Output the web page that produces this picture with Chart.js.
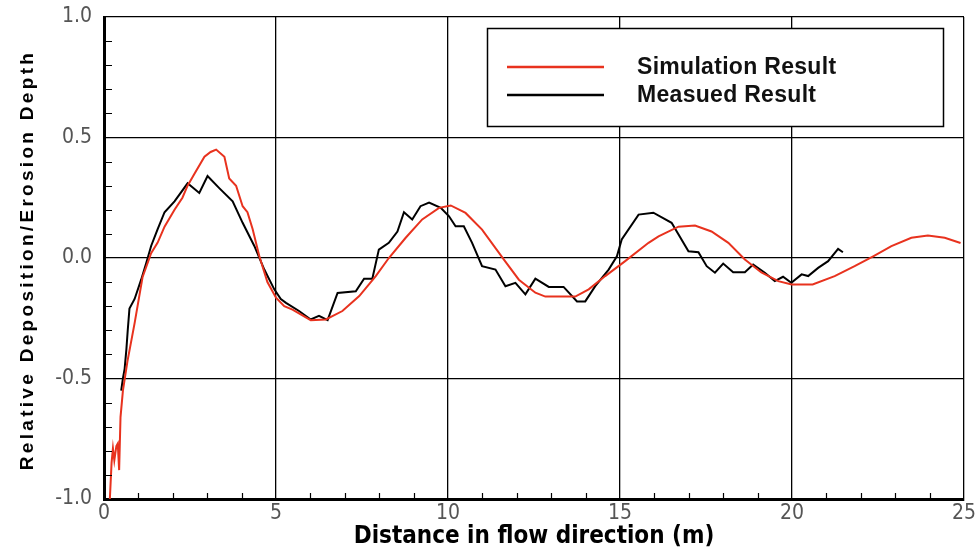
<!DOCTYPE html>
<html><head><meta charset="utf-8">
<script src="https://cdn.jsdelivr.net/npm/chart.js@4/dist/chart.umd.min.js"></script>
<style>html,body{margin:0;padding:0;background:#fff}#wrap{width:979px;height:552px}</style>
</head><body><div id="wrap"><canvas id="c" width="979" height="552"></canvas></div>
<script>
const seriesNames = ["Simulation Result", "Measued Result"];
const xTitle = "Distance in flow direction (m)";
const yTitle = "Relative Deposition/Erosion Depth";
const xTicks = [0, 5, 10, 15, 20, 25];
const yTicks = [-1.0, -0.5, 0.0, 0.5, 1.0];

const simX = [0.17,0.22,0.26,0.3,0.36,0.4,0.44,0.48,0.55,0.68,0.89,1.12,1.37,1.56,1.76,2.05,2.28,2.43,2.63,2.92,3.1,3.26,3.5,3.64,3.84,4.03,4.17,4.32,4.51,4.75,5.0,5.24,5.48,6.01,6.45,6.93,7.42,7.9,8.28,8.77,9.25,9.74,10.08,10.51,10.99,11.62,12.06,12.54,12.83,13.7,14.09,14.57,15.15,15.83,16.12,16.7,17.18,17.66,18.15,18.63,19.11,19.6,19.99,20.6,21.24,21.82,22.36,22.89,23.47,23.95,24.44,24.9];
const simY = [-1.0,-0.85,-0.79,-0.84,-0.78,-0.77,-0.88,-0.66,-0.55,-0.43,-0.27,-0.08,0.02,0.064,0.13,0.2,0.25,0.3,0.35,0.42,0.44,0.45,0.42,0.33,0.30,0.215,0.19,0.12,0.01,-0.10,-0.165,-0.2,-0.214,-0.258,-0.255,-0.22,-0.158,-0.075,0.0,0.084,0.16,0.208,0.218,0.187,0.118,-0.006,-0.09,-0.144,-0.16,-0.16,-0.13,-0.075,-0.013,0.063,0.09,0.13,0.135,0.11,0.063,-0.006,-0.06,-0.096,-0.11,-0.11,-0.075,-0.034,0.007,0.049,0.084,0.093,0.084,0.062];

const measX = [0.5,0.55,0.6,0.65,0.69,0.74,0.89,1.08,1.23,1.37,1.56,1.76,2.05,2.43,2.77,3.01,3.35,3.74,4.03,4.37,4.66,4.95,5.14,5.29,5.67,6.01,6.25,6.5,6.79,7.32,7.56,7.8,7.99,8.28,8.53,8.72,8.96,9.2,9.45,9.79,10.03,10.22,10.46,10.7,10.99,11.38,11.67,11.96,12.25,12.54,12.93,13.36,13.75,13.99,14.28,14.67,14.91,15.05,15.54,15.97,16.5,16.99,17.28,17.52,17.76,18.0,18.29,18.63,18.87,19.21,19.5,19.74,19.98,20.28,20.47,20.76,21.05,21.34,21.48];
const measY = [-0.55,-0.5,-0.46,-0.38,-0.30,-0.21,-0.17,-0.09,-0.02,0.05,0.12,0.19,0.235,0.31,0.27,0.34,0.29,0.235,0.146,0.05,-0.048,-0.13,-0.17,-0.186,-0.22,-0.255,-0.24,-0.258,-0.145,-0.138,-0.086,-0.086,0.035,0.063,0.11,0.19,0.16,0.215,0.23,0.208,0.173,0.132,0.132,0.063,-0.034,-0.048,-0.117,-0.103,-0.151,-0.086,-0.12,-0.12,-0.18,-0.18,-0.117,-0.048,0.007,0.077,0.18,0.188,0.146,0.028,0.024,-0.034,-0.061,-0.023,-0.059,-0.059,-0.027,-0.061,-0.096,-0.078,-0.103,-0.068,-0.075,-0.041,-0.013,0.038,0.024];

const toPts = (xs, ys) => xs.map((x, i) => ({x: x, y: ys[i]}));
const NARROW = '"Liberation Sans Narrow", "DejaVu Sans Condensed", "Arial Narrow", sans-serif';
const SANS = '"Liberation Sans", Arial, sans-serif';

const decor = {
  id: 'decor',
  afterDraw(chart) {
    const ctx = chart.ctx, a = chart.chartArea;
    const xs = chart.scales.x, ys = chart.scales.y;
    ctx.save();
    ctx.strokeStyle = '#000';
    ctx.lineWidth = 1.2;
    ctx.beginPath();
    for (let v = 1; v < 25; v++) {
      if (v % 5 === 0) continue;
      const px = Math.round(xs.getPixelForValue(v)) + 0.5;
      ctx.moveTo(px, a.bottom); ctx.lineTo(px, a.bottom - 6);
    }
    for (let k = -9; k <= 9; k++) {
      if (k % 5 === 0) continue;
      const py = Math.round(ys.getPixelForValue(k / 10)) + 0.5;
      ctx.moveTo(a.left, py); ctx.lineTo(a.left + 8, py);
    }
    ctx.stroke();
    // y axis title
    ctx.save();
    ctx.translate(28, (a.top + a.bottom) / 2 + 2);
    ctx.rotate(-Math.PI / 2);
    ctx.fillStyle = '#000';
    ctx.font = 'bold 19px ' + SANS;
    try { ctx.letterSpacing = '3.3px'; } catch (e) {}
    ctx.textAlign = 'center';
    ctx.textBaseline = 'middle';
    ctx.fillText(yTitle, 0, 0);
    ctx.restore();
    // legend box
    const bx = 487, by = 28, bw = 456, bh = 98;
    ctx.fillStyle = '#fff';
    ctx.fillRect(bx, by, bw, bh);
    ctx.strokeStyle = '#000';
    ctx.lineWidth = 1.5;
    ctx.strokeRect(bx + 0.5, by + 0.5, bw, bh);
    const ds = chart.data.datasets;
    const rows = [67, 95];
    ds.forEach((d, i) => {
      ctx.strokeStyle = d.borderColor;
      ctx.lineWidth = 2.5;
      ctx.beginPath();
      ctx.moveTo(507, rows[i]); ctx.lineTo(604, rows[i]);
      ctx.stroke();
      ctx.fillStyle = '#111';
      ctx.font = 'bold 23px ' + SANS;
      try { ctx.letterSpacing = '0.3px'; } catch (e) {}
      ctx.textBaseline = 'middle';
      ctx.textAlign = 'left';
      ctx.fillText(d.label, 637, rows[i] + 1);
    });
    ctx.restore();
  }
};

new Chart(document.getElementById('c'), {
  type: 'line',
  data: {
    datasets: [
      {label: seriesNames[0], data: toPts(simX, simY), borderColor: '#e8321e', borderWidth: 2, pointRadius: 0, tension: 0, fill: false},
      {label: seriesNames[1], data: toPts(measX, measY), borderColor: '#000000', borderWidth: 2, pointRadius: 0, tension: 0, fill: false}
    ]
  },
  options: {
    responsive: false,
    animation: false,
    devicePixelRatio: 1,
    layout: {padding: {left: 0, top: 17, right: 15, bottom: 0}},
    plugins: {legend: {display: false}, tooltip: {enabled: false}},
    scales: {
      x: {
        type: 'linear', min: 0, max: 25,
        afterFit: s => { s.height = 53; s.paddingLeft = 0; s.paddingRight = 0; },
        afterBuildTicks: s => { s.ticks = xTicks.map(v => ({value: v})); },
        ticks: {padding: 2, color: '#555', font: {family: NARROW, size: 21}, callback: v => String(v), maxRotation: 0},
        grid: {color: '#000', lineWidth: 1.3, drawTicks: false},
        border: {color: '#000', width: 3},
        title: {display: true, text: xTitle, color: '#000', font: {family: NARROW, size: 24, weight: 'bold'}, padding: {top: 0, bottom: 1}}
      },
      y: {
        type: 'linear', min: -1, max: 1,
        afterFit: s => { s.width = 104; s.paddingTop = 0; s.paddingBottom = 0; },
        afterBuildTicks: s => { s.ticks = yTicks.map(v => ({value: v})); },
        ticks: {padding: 12, color: '#555', font: {family: NARROW, size: 21}, callback: v => Number(v).toFixed(1)},
        grid: {color: '#000', lineWidth: 1.3, drawTicks: false},
        border: {color: '#000', width: 3}
      }
    }
  },
  plugins: [decor]
});
</script></body></html>
